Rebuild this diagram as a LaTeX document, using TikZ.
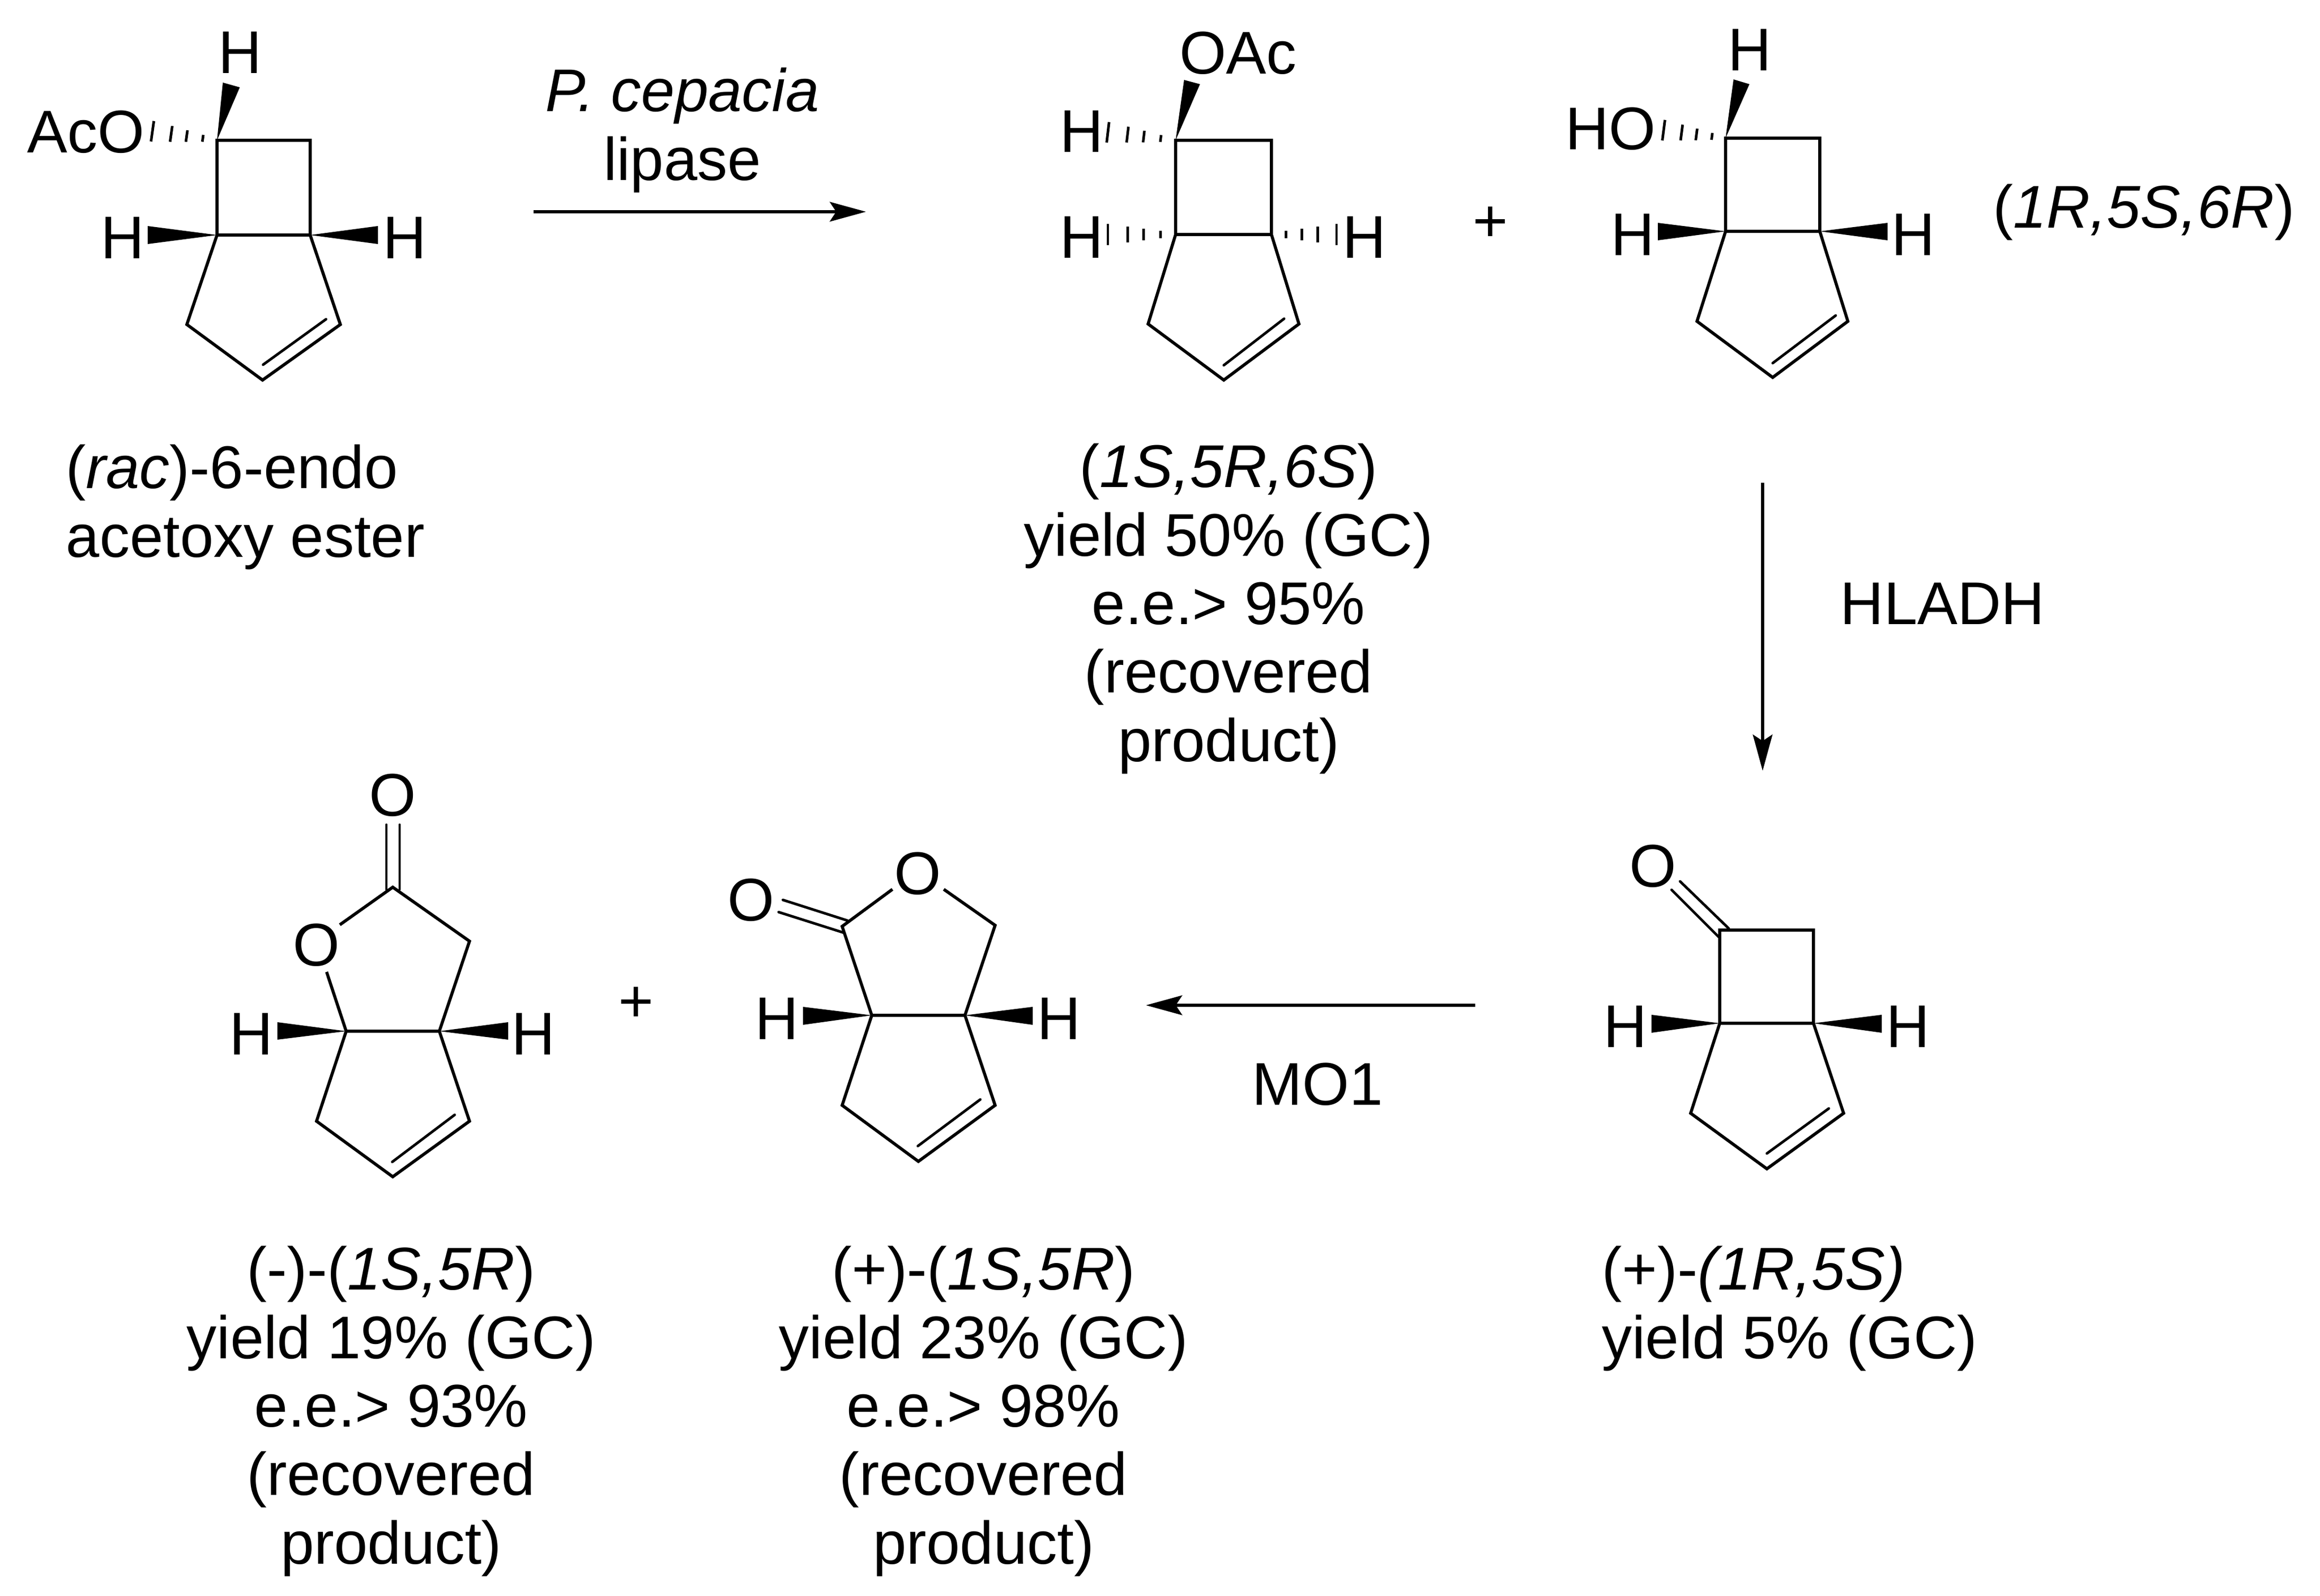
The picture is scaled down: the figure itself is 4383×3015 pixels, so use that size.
\documentclass[tikz,border=0pt]{standalone}
\usepackage{fontspec}
\setmainfont{Liberation Sans}
\usetikzlibrary{arrows.meta,calc}
\newcommand\chemfont{\fontsize{32.4}{36.8}\selectfont}
\newcommand\hashbond[2]{%
  \foreach \tt/\hh in {.22/6.5,.47/11,.71/15,1/19.5}{%
    \coordinate (hc) at ($(#1)!\tt!(#2)$);
    \draw[hashline] ($(hc)!\hh*0.2845pt!90:(#1)$) -- ($(hc)!\hh*0.2845pt!-90:(#1)$);
  }}
\tikzset{
  bond/.style={line width=1.65pt,line join=miter},
  inner/.style={line width=1.4pt,line cap=round},
  hashline/.style={line width=1.4pt},
  wedgeb/.style={fill=black,draw=none},
  atom/.style={inner sep=0pt,font=\chemfont},
  caption/.style={inner sep=0pt,font=\chemfont,align=center},
  rxn/.style={line width=1.7pt,-{Stealth[length=19.4pt,width=10.5pt,inset=3.4pt]}},
}
\begin{document}
\begin{tikzpicture}[x=0.01cm,y=-0.01cm]
\useasboundingbox (0,0) rectangle (4383,3015);
% molecule 1
\coordinate (a1) at (410,265); \coordinate (a2) at (586,265);
\coordinate (a3) at (410,444); \coordinate (a4) at (586,444);
\coordinate (a5) at (353,613); \coordinate (a6) at (643,613); \coordinate (a7) at (496,718);
\coordinate (a8) at (616,603); \coordinate (a9) at (497,689);
\node[atom] (aH) at (454,99) {H};
\node[atom] (aOAc) at (162,249) {AcO};
\node[atom] (aHl) at (232,449) {H};
\node[atom] (aHr) at (765,449) {H};
\coordinate (aOe) at (288,248);
\draw[bond] (a1) -- (a2) -- (a4) -- (a3) -- cycle;
\draw[bond] (a3) -- (a5) -- (a7) -- (a6) -- (a4);
\draw[inner] (a8) -- (a9);
\fill[wedgeb] (a1) -- (421,156) -- (453,165) -- cycle;
\fill[wedgeb] (a3) -- (279,427) -- (279,461) -- cycle;
\fill[wedgeb] (a4) -- (714,427) -- (714,461) -- cycle;
\hashbond{a1}{aOe}
% molecule 2
\coordinate (b1) at (2221,265); \coordinate (b2) at (2402,265);
\coordinate (b3) at (2221,443); \coordinate (b4) at (2402,443);
\coordinate (b5) at (2169,612); \coordinate (b6) at (2454,612); \coordinate (b7) at (2312,718);
\coordinate (b8) at (2426,602); \coordinate (b9) at (2312,690);
\node[atom] (bOAc) at (2339,100) {OAc};
\node[atom] (bH1) at (2044,248) {H};
\node[atom] (bH2) at (2044,448) {H};
\node[atom] (bH3) at (2578,448) {H};
\coordinate (bE1) at (2093,250); \coordinate (bE2) at (2093,443); \coordinate (bE3) at (2525,443);
\draw[bond] (b1) -- (b2) -- (b4) -- (b3) -- cycle;
\draw[bond] (b3) -- (b5) -- (b7) -- (b6) -- (b4);
\draw[inner] (b8) -- (b9);
\fill[wedgeb] (b1) -- (2237,151) -- (2267,159) -- cycle;
\hashbond{b1}{bE1}
\hashbond{b3}{bE2}
\hashbond{b4}{bE3}
\node[atom] (plusA) at (2816,424) {+};
% molecule 3
\coordinate (c1) at (3260,261); \coordinate (c2) at (3438,261);
\coordinate (c3) at (3260,437); \coordinate (c4) at (3438,437);
\coordinate (c5) at (3206,607); \coordinate (c6) at (3491,607); \coordinate (c7) at (3349,713);
\coordinate (c8) at (3468,596); \coordinate (c9) at (3349,686);
\node[atom] (cH1) at (3306,94) {H};
\node[atom] (cHO) at (3043,243) {HO};
\node[atom] (cH2) at (3085,443) {H};
\node[atom] (cH3) at (3615,443) {H};
\coordinate (cE1) at (3143,246);
\draw[bond] (c1) -- (c2) -- (c4) -- (c3) -- cycle;
\draw[bond] (c3) -- (c5) -- (c7) -- (c6) -- (c4);
\draw[inner] (c8) -- (c9);
\fill[wedgeb] (c1) -- (3275,150) -- (3305,159) -- cycle;
\fill[wedgeb] (c3) -- (3132,421) -- (3132,454) -- cycle;
\fill[wedgeb] (c4) -- (3566,421) -- (3566,454) -- cycle;
\hashbond{c1}{cE1}
\node[atom] (cap3) at (4050,401) {(\textit{1R,5S,6R})};
% molecule 4
\coordinate (d1) at (742,1676); \coordinate (d2) at (887,1778);
\coordinate (d3) at (830,1948); \coordinate (d4) at (654,1948);
\coordinate (d5) at (598,2118); \coordinate (d6) at (887,2118); \coordinate (d7) at (742,2223);
\coordinate (d8) at (859,2106); \coordinate (d9) at (741,2195);
\node[atom] (dO1) at (742,1502) {O};
\node[atom] (dO2) at (598,1785) {O};
\node[atom] (dH1) at (475,1953) {H};
\node[atom] (dH2) at (1008,1953) {H};
\draw[inner] (730,1558) -- (730,1680);
\draw[inner] (755,1558) -- (755,1680);
\draw[bond] (642,1747) -- (d1) -- (d2) -- (d3) -- (d4) -- (617,1836);
\draw[bond] (d4) -- (d5) -- (d7) -- (d6) -- (d3);
\draw[inner] (d8) -- (d9);
\fill[wedgeb] (d4) -- (524,1931) -- (524,1964) -- cycle;
\fill[wedgeb] (d3) -- (960,1931) -- (960,1964) -- cycle;
\node[atom] (plusB) at (1202,1898) {+};
% molecule 5
\coordinate (e1) at (1591,1750); \coordinate (e2) at (1880,1748);
\coordinate (e3) at (1823,1918); \coordinate (e4) at (1647,1918);
\coordinate (e5) at (1591,2088); \coordinate (e6) at (1880,2088); \coordinate (e7) at (1735,2194);
\coordinate (e8) at (1852,2077); \coordinate (e9) at (1734,2165);
\node[atom] (eO1) at (1419,1700) {O};
\node[atom] (eO2) at (1734,1650) {O};
\node[atom] (eH1) at (1468,1924) {H};
\node[atom] (eH2) at (2001,1924) {H};
\draw[inner] (1479,1700) -- (1601,1739);
\draw[inner] (1471,1723) -- (1594,1762);
\draw[bond] (1686,1680) -- (e1) -- (e4) -- (e3) -- (e2) -- (1783,1680);
\draw[bond] (e4) -- (e5) -- (e7) -- (e6) -- (e3);
\draw[inner] (e8) -- (e9);
\fill[wedgeb] (e4) -- (1517,1902) -- (1517,1936) -- cycle;
\fill[wedgeb] (e3) -- (1951,1902) -- (1951,1936) -- cycle;
% molecule 6
\coordinate (f1) at (3249,1757); \coordinate (f2) at (3426,1757);
\coordinate (f3) at (3249,1933); \coordinate (f4) at (3426,1933);
\coordinate (f5) at (3194,2103); \coordinate (f6) at (3483,2103); \coordinate (f7) at (3338,2208);
\coordinate (f8) at (3455,2094); \coordinate (f9) at (3338,2179);
\node[atom] (fO) at (3123,1636) {O};
\node[atom] (fH1) at (3071,1939) {H};
\node[atom] (fH2) at (3605,1939) {H};
\draw[inner] (3174,1665) -- (3266,1754);
\draw[inner] (3158,1681) -- (3247,1770);
\draw[bond] (f1) -- (f2) -- (f4) -- (f3) -- cycle;
\draw[bond] (f3) -- (f5) -- (f7) -- (f6) -- (f4);
\draw[inner] (f8) -- (f9);
\fill[wedgeb] (f3) -- (3120,1917) -- (3120,1951) -- cycle;
\fill[wedgeb] (f4) -- (3555,1917) -- (3555,1951) -- cycle;
% arrows
\coordinate (r1s) at (1008,400); \coordinate (r1e) at (1636,400);
\coordinate (r2s) at (3330,912); \coordinate (r2e) at (3330,1456);
\coordinate (r3s) at (2787,1899); \coordinate (r3e) at (2165,1899);
\draw[rxn] (r1s) -- (r1e);
\draw[rxn,line width=1.5pt] (r2s) -- (r2e);
\draw[rxn] (r3s) -- (r3e);
% labels
\node[caption] (l1) at (1289,246) {\textit{P. cepacia}\\lipase};
\node[atom] (l2) at (3670,1140) {HLADH};
\node[atom] (l3) at (2489,2048) {MO1};
\node[caption,anchor=west,align=left] (t1) at (124,958) {(\textit{rac})-6-endo\\acetoxy ester};
\node[caption] (t2) at (2321,1150) {(\textit{1S,5R,6S})\\yield 50\% (GC)\\e.e.> 95\%\\(recovered\\product)};
\node[caption,anchor=west,align=left] (t3) at (3026,2472) {(+)-\textit{(1R,5S)}\\yield 5\% (GC)};
\node[caption] (t4) at (739,2666) {(-)-(\textit{1S,5R})\\yield 19\% (GC)\\e.e.> 93\%\\(recovered\\product)};
\node[caption] (t5) at (1858,2666) {(+)-(\textit{1S,5R})\\yield 23\% (GC)\\e.e.> 98\%\\(recovered\\product)};
\end{tikzpicture}
\end{document}
